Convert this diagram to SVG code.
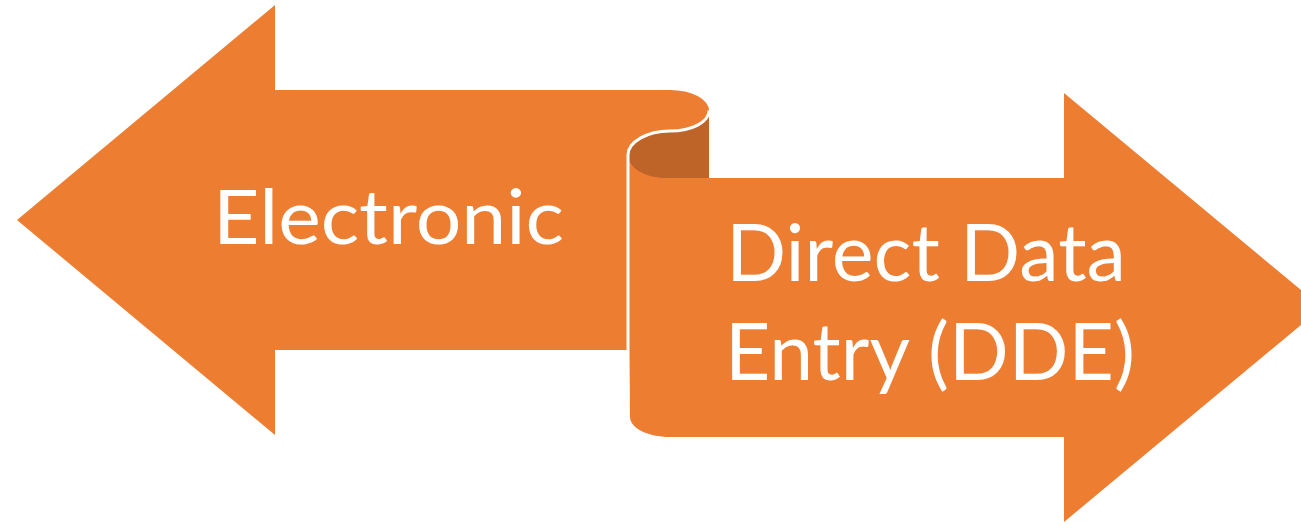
<svg xmlns="http://www.w3.org/2000/svg" width="1301" height="524" viewBox="0 0 1301 524">
<style>
.fill{fill:#ED7D31;}
.dark{fill:#BE6428;}
.edge{fill:none;stroke:#FFFFFF;stroke-width:3;stroke-linejoin:round;}
.lbl{font-family:Lato,"Open Sans","Liberation Sans",sans-serif;fill:#FFFFFF;}
</style>
<rect width="1301" height="524" fill="#FFFFFF"/>
<g id="node-electronic">
<path class="fill" d="M17,220 L275,5 L275,90 L670,90 A39,20.5 0 0 1 709,110.5 L709,350 L275,350 L275,435 Z"/>
<text class="lbl" x="213" y="244" font-size="76" textLength="351" lengthAdjust="spacingAndGlyphs">Electronic</text>
</g>
<g id="node-dde">
<path class="dark" d="M628,155 C628,142 647,131 670,131 C692,131 709,122 709,110.5 L709,178 L665,178 C645,178 628,168 628,155 Z"/>
<path class="fill" d="M628,155 C628,168 645,178 665,178 L1064,178 L1064,93 L1322,307.5 L1064,522 L1064,437 L670,437 C648,437 630,428 630,417 L628,155 Z"/>
<path class="edge" d="M709,110.5 C709,122 692,131 670,131 C647,131 628,142 628,155 L628,350"/>
<text class="lbl" x="726" y="281" font-size="80" textLength="400" lengthAdjust="spacingAndGlyphs">Direct Data</text>
<text class="lbl" x="725" y="380" font-size="80" textLength="410" lengthAdjust="spacingAndGlyphs">Entry (DDE)</text>
</g>
<g id="connectors"></g>
</svg>
